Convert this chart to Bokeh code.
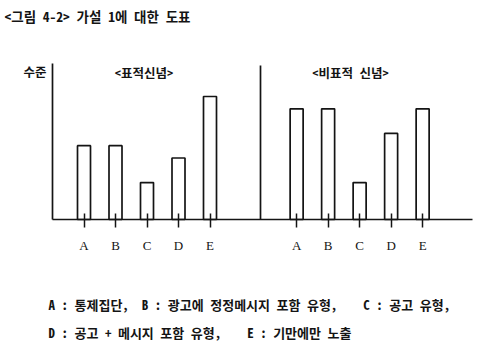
import re
from bokeh.plotting import figure
from bokeh.models import Range1d, FixedTicker, Label, CustomJSTickFormatter, LinearAxis
from bokeh.embed import file_html
from bokeh.resources import INLINE

# ---------------- data ----------------
categories = ["A", "B", "C", "D", "E"]
target_values = [6, 6, 3, 5, 10]        # <표적신념>
nontarget_values = [9, 9, 3, 7, 9]      # <비표적 신념>
panel_titles = ["<표적신념>", "<비표적 신념>"]
y_label = "수준"
header = "<그림 4-2> 가설 1에 대한 도표"
legend_lines = [
    "A : 통제집단,  B : 광고에 정정메시지 포함 유형,    C : 공고 유형,",
    "D : 공고 + 메시지 포함 유형,    E : 기만에만 노출",
]

# ---------------- layout ----------------
W, H = 486, 354
FL, FR, FT, FB = 52, 472, 63, 219          # plot area edges in pixels
XPX = 31.5                                  # pixels per x unit (one bar slot)
YPX = 12.3                                  # pixels per value unit
LEFT_OFFSET = 1.0
RIGHT_OFFSET = 7.75

def X(px):
    return (px - FL) / XPX

def Y(py):
    return (FB - py) / YPX

KFONT = "'Noto Sans Mono CJK KR', 'Noto Sans CJK KR'"
INK = "#141414"
LW = 1.7

p = figure(width=W, height=H, output_backend="svg", toolbar_location=None,
           x_range=Range1d(X(0), X(W)), y_range=Range1d(Y(H), Y(0)),
           min_border=0)
p.outline_line_color = None
p.xgrid.visible = False
p.ygrid.visible = False
p.background_fill_color = "white"
p.border_fill_color = "white"

left_x = [LEFT_OFFSET + i for i in range(len(categories))]
right_x = [RIGHT_OFFSET + i for i in range(len(categories))]

bar_style = dict(width=13 / XPX, bottom=0, fill_color="white",
                 line_color=INK, line_width=LW)
p.vbar(x=left_x, top=target_values, **bar_style)
p.vbar(x=right_x, top=nontarget_values, **bar_style)

# y axis: plain vertical line of the first panel
ya = p.yaxis[0]
ya.fixed_location = 0
ya.bounds = (0, Y(FT))
ya.ticker = FixedTicker(ticks=[])
ya.major_label_text_font_size = "0px"
ya.minor_tick_line_color = None
ya.major_tick_line_color = None
ya.axis_line_color = INK
ya.axis_line_width = LW

# vertical line of the second panel
ya2 = LinearAxis(fixed_location=X(260), bounds=(0, Y(65)),
                 ticker=FixedTicker(ticks=[]), major_label_text_font_size="0px",
                 minor_tick_line_color=None, major_tick_line_color=None,
                 axis_line_color=INK, axis_line_width=LW)
p.add_layout(ya2, "left")

# x axis: baseline with ticks at bars
xa = p.xaxis[0]
xa.fixed_location = 0
xa.bounds = (0, X(FR))
xa.ticker = FixedTicker(ticks=left_x + right_x)
xa.formatter = CustomJSTickFormatter(args=dict(cats=categories),
                                     code="return cats[index % cats.length];")
xa.axis_line_color = INK
xa.axis_line_width = LW
xa.major_tick_in = 6
xa.major_tick_out = 8
xa.major_tick_line_color = INK
xa.major_tick_line_width = 1.5
xa.minor_tick_line_color = None
xa.major_label_standoff = 10
xa.major_label_text_font = "Liberation Serif"
xa.major_label_text_font_size = "13px"
xa.major_label_text_color = INK

def keep_spaces(s):
    return re.sub(r" {2,}", lambda m: "\u00a0" * len(m.group()), s)

def txt(x, y, s, size, align="left", bold=True):
    p.add_layout(Label(x=x, y=y, text=keep_spaces(s), text_font=KFONT,
                       text_font_size=size,
                       text_font_style="bold" if bold else "normal",
                       text_color=INK, text_align=align, text_baseline="middle"))

txt(X(4), Y(15), header, "13.5px")
txt(X(23), Y(71), y_label, "12.5px")
txt(X(143.5), Y(72), panel_titles[0], "12.5px", align="center")
txt(X(350), Y(72), panel_titles[1], "12.5px", align="center")
txt(X(48), Y(304), legend_lines[0], "13px")
txt(X(48), Y(332), legend_lines[1], "13px")

open("out.html", "w").write(file_html(p, INLINE))
